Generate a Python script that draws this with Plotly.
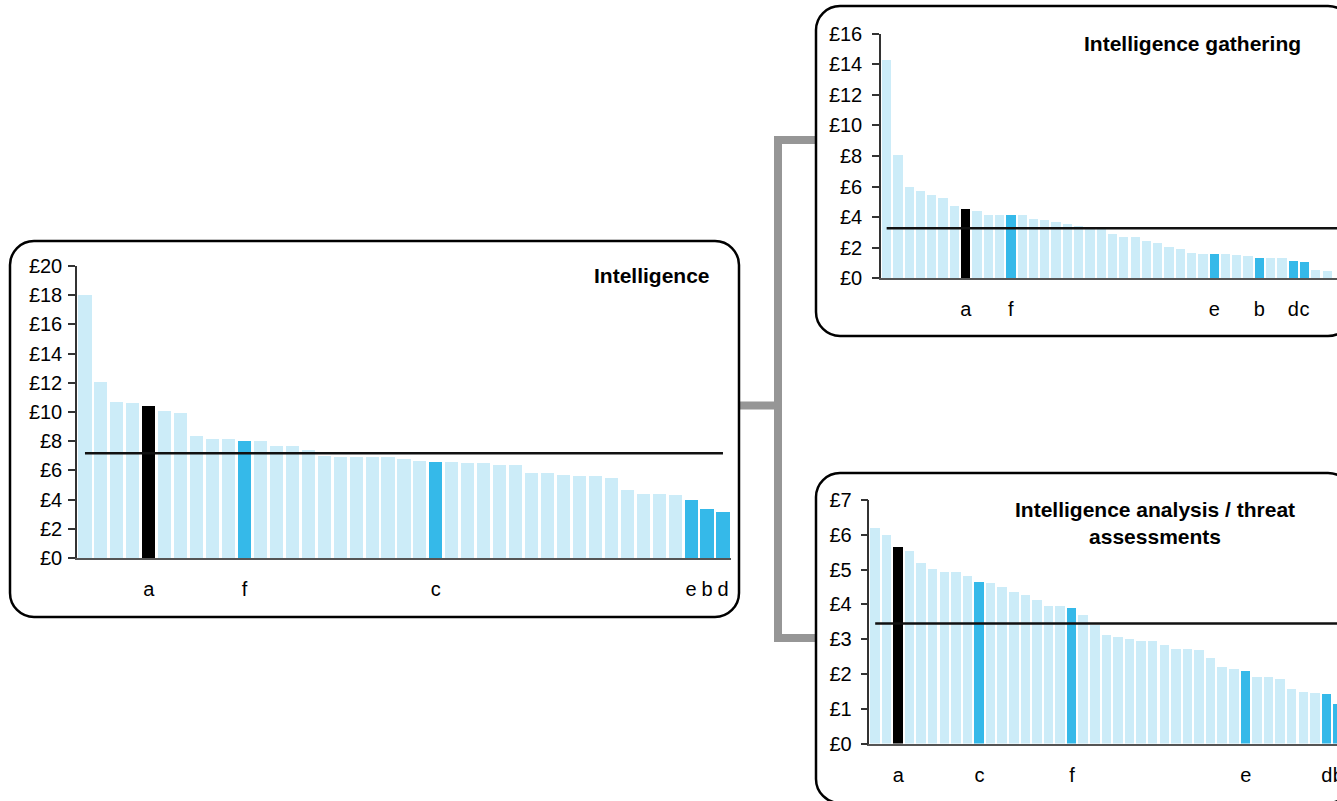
import plotly.graph_objects as go

W, H = 1337, 801          # visible window
FIG_W = 1360              # figure is wider; the window crops the right edge like the reference

# ---------------- data ----------------
intel_vals = [18.02, 12.06, 10.70, 10.63, 10.42, 10.08, 9.94, 8.37, 8.16, 8.16,
              8.03, 8.03, 7.69, 7.69, 7.41, 7.00, 6.93, 6.93, 6.93, 6.93,
              6.80, 6.66, 6.59, 6.59, 6.52, 6.52, 6.39, 6.39, 5.84, 5.84,
              5.70, 5.63, 5.63, 5.50, 4.67, 4.40, 4.40, 4.33, 3.99, 3.37, 3.17]
intel_labels = {4: "a", 10: "f", 22: "c", 38: "e", 39: "b", 40: "d"}
intel_black = [4]
intel_mean = 7.18

gather_vals = [14.28, 8.06, 5.96, 5.76, 5.44, 5.30, 4.72, 4.58, 4.39, 4.19,
               4.19, 4.13, 4.13, 3.93, 3.86, 3.73, 3.60, 3.47, 3.32, 3.30,
               2.95, 2.75, 2.69, 2.49, 2.36, 2.10, 1.96, 1.70, 1.64, 1.64,
               1.64, 1.57, 1.51, 1.38, 1.38, 1.38, 1.18, 1.11, 0.59, 0.52]
gather_labels = {7: "a", 11: "f", 29: "e", 33: "b", 36: "d", 37: "c"}
gather_black = [7]
gather_mean = 3.27

analysis_vals = [6.20, 6.00, 5.65, 5.54, 5.19, 5.02, 4.93, 4.93, 4.82, 4.65,
                 4.62, 4.50, 4.36, 4.27, 4.13, 3.96, 3.96, 3.90, 3.70, 3.42,
                 3.13, 3.07, 3.01, 2.95, 2.95, 2.84, 2.73, 2.73, 2.70, 2.47,
                 2.21, 2.15, 2.09, 1.92, 1.92, 1.86, 1.58, 1.49, 1.46, 1.43, 1.15]
analysis_labels = {2: "a", 9: "c", 17: "f", 32: "e", 39: "d", 40: "b"}
analysis_black = [2]
analysis_mean = 3.45

titles = ["Intelligence", "Intelligence gathering",
          "Intelligence analysis / threat<br>assessments"]

# ---------------- style ----------------
LIGHT = "#CCECF8"
BLUE = "#35B9E9"
BLACK = "#000000"
FONT = "Liberation Sans, Arial, sans-serif"
TICK_SIZE = 20
TITLE_SIZE = 21


def px(x):
    return x / FIG_W


def py(y):
    return 1 - y / H


def colors(vals, labels, black):
    out = []
    for i in range(len(vals)):
        if i in black:
            out.append(BLACK)
        elif i in labels:
            out.append(BLUE)
        else:
            out.append(LIGHT)
    return out


fig = go.Figure()

panels = [
    # vals, labels, black, mean, axis-suffix, x0px, spacing, y0px(=0), ytop px, ymax, dtick, xend px, line end, y-label standoff
    (intel_vals, intel_labels, intel_black, intel_mean, "", 77, 15.95, 558, 266, 20, 2, 731, len(intel_vals) - 1, 2),
    (gather_vals, gather_labels, gather_black, gather_mean, "2", 881, 11.295, 278.3, 33.7, 16, 2, 1350, len(gather_vals) + 1, 6),
    (analysis_vals, analysis_labels, analysis_black, analysis_mean, "3", 869.4, 11.58, 743.5, 500, 7, 1, 1350, len(analysis_vals) + 1, 5),
]

layout_axes = {}
for (vals, labels, black, mean, sfx, x0, sp, ybot, ytop, ymax, dt, xend, lend, ystand) in panels:
    xs = list(range(len(vals)))
    fig.add_trace(go.Bar(
        x=xs, y=vals, width=0.82,
        marker=dict(color=colors(vals, labels, black), line=dict(width=0)),
        xaxis="x" + sfx, yaxis="y" + sfx, showlegend=False, hoverinfo="y",
    ))
    fig.add_trace(go.Scatter(
        x=[0, lend], y=[mean, mean], mode="lines",
        line=dict(color="#111111", width=2.5),
        xaxis="x" + sfx, yaxis="y" + sfx, showlegend=False, hoverinfo="skip",
    ))
    rng_end = (xend - x0) / sp - 0.5
    layout_axes["xaxis" + sfx] = dict(
        domain=[px(x0), px(xend)], range=[-0.5, rng_end],
        anchor="y" + sfx, showgrid=False, zeroline=False,
        showline=True, linecolor="#555555", linewidth=2,
        ticks="", tickvals=list(labels.keys()), ticktext=list(labels.values()),
        tickangle=0, automargin=False,
        tickfont=dict(family=FONT, size=TICK_SIZE, color="#000"),
        ticklabelstandoff=12, fixedrange=True,
    )
    layout_axes["yaxis" + sfx] = dict(
        domain=[py(ybot), py(ytop)], range=[0, ymax], dtick=dt,
        anchor="x" + sfx, showgrid=False, zeroline=False, automargin=False,
        showline=True, linecolor="#333333", linewidth=1.5,
        ticks="outside", ticklen=7, tickwidth=1.5, tickcolor="#333333",
        ticklabelstandoff=ystand,
        tickprefix="£", tickfont=dict(family=FONT, size=TICK_SIZE, color="#000"),
        fixedrange=True,
    )


def P(x, y):
    return f"{px(x):.6f},{py(y):.6f}"


def rrect(x0, y0, x1, y1, r):
    k = 0.5523 * r
    return (f"M {P(x0 + r, y0)} L {P(x1 - r, y0)} "
            f"C {P(x1 - r + k, y0)} {P(x1, y0 + r - k)} {P(x1, y0 + r)} "
            f"L {P(x1, y1 - r)} "
            f"C {P(x1, y1 - r + k)} {P(x1 - r + k, y1)} {P(x1 - r, y1)} "
            f"L {P(x0 + r, y1)} "
            f"C {P(x0 + r - k, y1)} {P(x0, y1 - r + k)} {P(x0, y1 - r)} "
            f"L {P(x0, y0 + r)} "
            f"C {P(x0, y0 + r - k)} {P(x0 + r - k, y0)} {P(x0 + r, y0)} Z")


connector = (f"M {P(739, 405.5)} L {P(778, 405.5)} "
             f"M {P(815, 140)} L {P(778, 140)} L {P(778, 638)} L {P(815, 638)}")

shapes = [
    dict(type="path", xref="paper", yref="paper", path=connector,
         line=dict(color="#969696", width=8)),
    dict(type="path", xref="paper", yref="paper", path=rrect(10, 241, 739, 617, 24),
         line=dict(color="#000", width=2.5)),
    dict(type="path", xref="paper", yref="paper", path=rrect(816, 6, 1352, 336, 24),
         line=dict(color="#000", width=2.5)),
    dict(type="path", xref="paper", yref="paper", path=rrect(816, 473, 1352, 803, 24),
         line=dict(color="#000", width=2.5)),
]

annotations = [
    dict(text="<b>" + titles[0] + "</b>", x=px(652), y=py(276), xref="paper", yref="paper",
         showarrow=False, font=dict(family=FONT, size=TITLE_SIZE, color="#000"),
         xanchor="center", yanchor="middle"),
    dict(text="<b>" + titles[1] + "</b>", x=px(1192.5), y=py(43), xref="paper", yref="paper",
         showarrow=False, font=dict(family=FONT, size=TITLE_SIZE, color="#000"),
         xanchor="center", yanchor="middle"),
    dict(text="<b>" + titles[2].replace("<br>", "</b><br><b>") + "</b>", x=px(1155), y=py(523),
         xref="paper", yref="paper", showarrow=False,
         font=dict(family=FONT, size=TITLE_SIZE, color="#000"),
         xanchor="center", yanchor="middle", align="center"),
]

fig.update_layout(
    width=FIG_W, height=H, autosize=False,
    margin=dict(l=0, r=0, t=0, b=0, pad=0, autoexpand=False),
    paper_bgcolor="white", plot_bgcolor="rgba(0,0,0,0)",
    bargap=0, showlegend=False,
    shapes=shapes, annotations=annotations,
    font=dict(family=FONT, color="#000"),
    **layout_axes,
)

fig.write_html(
    "out.html",
    config={"displayModeBar": False},
    post_script=("document.body.style.margin='0';"
                 "document.body.style.overflow='hidden';"
                 "document.documentElement.style.overflow='hidden';"),
)
